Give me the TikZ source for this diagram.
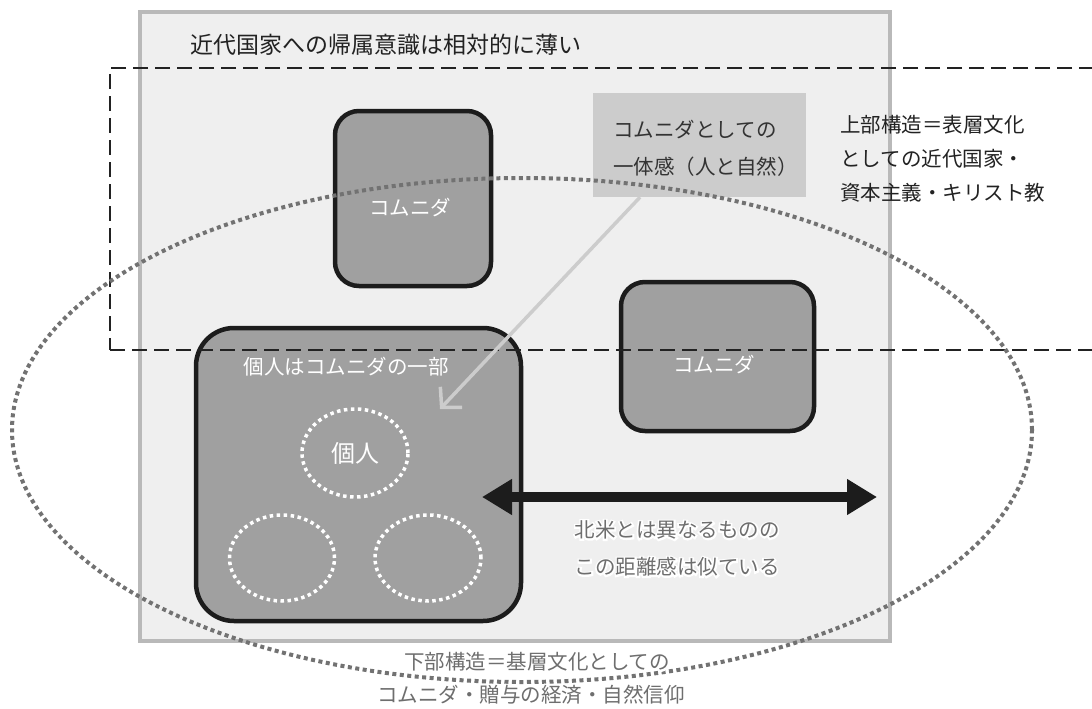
\documentclass[tikz,border=0pt]{standalone}
\usepackage{fontspec}
\newfontfamily\jp{Noto Sans CJK JP}
\usetikzlibrary{arrows.meta,shapes.geometric,calc}
\definecolor{framefill}{HTML}{EFEFEF}
\definecolor{frameline}{HTML}{B9B9B9}
\definecolor{boxfill}{HTML}{A0A0A0}
\definecolor{boxline}{HTML}{1C1C1C}
\definecolor{lblfill}{HTML}{CCCCCC}
\definecolor{dotcol}{HTML}{727272}
\definecolor{halocol}{HTML}{6E6E6E}
\definecolor{darktext}{HTML}{222222}
\definecolor{lbltext}{HTML}{333333}
\tikzset{
  frame/.style={draw=frameline, fill=framefill, line width=4pt, inner sep=0pt},
  cbox/.style={draw=boxline, fill=boxfill, line width=4.5pt, rounded corners=24pt, inner sep=0pt},
  upper/.style={draw=darktext, line width=2.5pt, dash pattern=on 15pt off 7pt, inner sep=0pt},
  basecurve/.style={ellipse, draw=dotcol, line width=4pt, dash pattern=on 4pt off 3.5pt, inner sep=0pt},
  person/.style={ellipse, draw=white, line width=3.5pt, dash pattern=on 3.5pt off 3.5pt, inner sep=0pt, text=white, font=\jp\fontsize{24}{28}\selectfont},
  lbl/.style={fill=lblfill, inner sep=0pt},
  txt/.style={inner sep=0pt, font=\jp\fontsize{20.5}{24}\selectfont},
  lgarrow/.style={draw=lblfill, line width=3.5pt, -{Straight Barb[length=14pt,width=30pt]}},
  dblarrow/.style={draw=boxline, line width=10pt, {Triangle[length=30pt,width=34pt]}-{Triangle[length=30pt,width=34pt]}},
}
\newcommand\halonode[3]{%
  \node[txt,text=white] at (#2) {\special{pdf:literal direct 2 Tr 3.4 w 1 1 1 RG}#3\special{pdf:literal direct 0 Tr 1 w 0 0 0 RG}};
  \node[txt,text=halocol] (#1) at (#2) {#3};}
\begin{document}
\begin{tikzpicture}[x=1pt,y=-1pt]
\clip (0,0) rectangle (1092,709);
\fill[white] (0,0) rectangle (1092,709);
% frame
\node[frame, minimum width=750pt, minimum height=629pt] (frame) at (515,326.5) {};
% community boxes
\node[cbox, minimum width=156pt, minimum height=175pt] (c1) at (413,198.5) {};
\node[cbox, minimum width=193pt, minimum height=149pt] (c2) at (717.5,356.5) {};
\node[cbox, rounded corners=38pt, minimum width=325pt, minimum height=293pt] (big) at (358.5,474.5) {};
% label box
\node[lbl, minimum width=213pt, minimum height=104pt] (lbl) at (699.5,145) {};
\node[txt, text=lbltext, align=left, anchor=west, font=\jp\fontsize{20.5}{37}\selectfont] (lbltxt) at (613,148.5) {コムニダとしての\\一体感（人と自然）};
% persons
\node[person, minimum width=106pt, minimum height=88pt] (p1) at (355,453) {個人};
\node[person, minimum width=105pt, minimum height=86pt] (p2) at (282,558) {};
\node[person, minimum width=106pt, minimum height=86pt] (p3) at (428,558) {};
% upper structure dashed
\node[upper, minimum width=1000pt, minimum height=282pt] (upper) at (610,209) {};
% base structure dotted ellipse
\node[basecurve, minimum width=1020pt, minimum height=504pt] (base) at (522,430) {};
% arrows
\coordinate (tip) at (440,409);
\draw[lgarrow] ([xshift=-59.5pt]lbl.south) -- (tip);
\coordinate (dl) at (482,497);
\coordinate (dr) at (877,497);
\draw[dblarrow] (dl) -- (dr);
% texts
\node[txt, text=darktext, anchor=west, font=\jp\fontsize{23}{28}\selectfont] (title) at (190,45) {近代国家への帰属意識は相対的に薄い};
\node[txt, text=darktext, anchor=west, align=left, font=\jp\fontsize{20.5}{34}\selectfont] (suptxt) at (840,159) {上部構造＝表層文化\\としての近代国家・\\資本主義・キリスト教};
\node[txt, text=white] (c1t) at (410,208) {コムニダ};
\node[txt, text=white] (c2t) at (714,365) {コムニダ};
\node[txt, text=white] (bigt) at (346,367) {個人はコムニダの一部};
\halonode{na1}{677,530}{北米とは異なるものの}
\halonode{na2}{677,567}{この距離感は似ている}
\halonode{bs1}{537,662}{下部構造＝基層文化としての}
\halonode{bs2}{531,695}{コムニダ・贈与の経済・自然信仰}
\end{tikzpicture}
\end{document}
